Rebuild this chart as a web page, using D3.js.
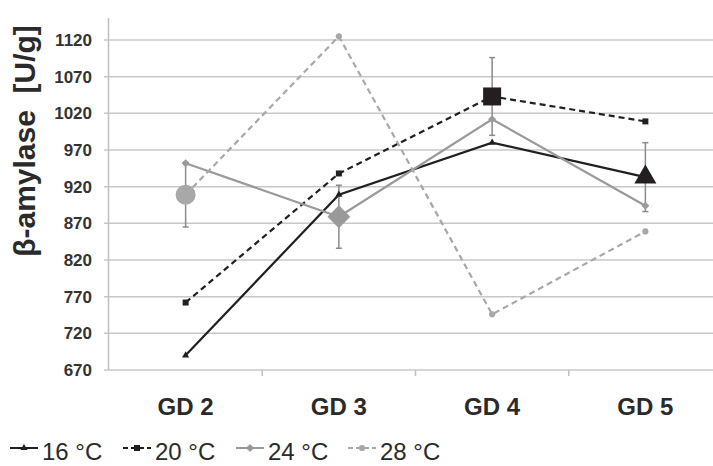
<!DOCTYPE html>
<html><head><meta charset="utf-8">
<script src="https://cdn.jsdelivr.net/npm/d3@7"></script>
<style>body{margin:0;background:#fff}svg{display:block;font-family:"Liberation Sans",Arial,sans-serif}</style>
</head><body><svg id="c" width="713" height="466"></svg>
<script>
const categories = ["GD 2","GD 3","GD 4","GD 5"];
const seriesNames = ["16 °C","20 °C","24 °C","28 °C"];
const t16 = [690, 909, 980, 933];
const t20 = [762, 938, 1043, 1009];
const t24 = [952, 879, 1012, 894];
const t28 = [909, 1125, 746, 859];
const errIndex = [3, 2, 1, 0];
const errValues = [47, 53, 43, 44];
const yTicks = [670,720,770,820,870,920,970,1020,1070,1120];
const yDomain = [670, 1150];

const styles = [
  {color:"#231f20", dash:null, shape:"triangle"},
  {color:"#231f20", dash:"6,4", shape:"square"},
  {color:"#9a9a9a", dash:null, shape:"diamond"},
  {color:"#a8a8a8", dash:"6,4", shape:"circle"}
];
const seriesData = [t16, t20, t24, t28];

const svg = d3.select("#c");
const x = d3.scaleBand().domain(categories).range([109, 722]);
const y = d3.scaleLinear().domain(yDomain).range([370, 18]);

// gridlines
svg.append("g").selectAll("line").data(yTicks).join("line")
  .attr("x1", 104).attr("x2", 713)
  .attr("y1", d => y(d)).attr("y2", d => y(d))
  .attr("stroke", "#c8c8c8").attr("stroke-width", 1.5);

// y axis line
svg.append("line").attr("x1",108.5).attr("x2",108.5).attr("y1",y(yDomain[1])).attr("y2",370)
  .attr("stroke","#c0c0c0").attr("stroke-width",1.5);
// x category ticks
const bounds = categories.slice(1).map(c => x(c));
svg.append("g").selectAll("line").data(bounds).join("line")
  .attr("x1", d => d).attr("x2", d => d).attr("y1", 370).attr("y2", 376)
  .attr("stroke","#c0c0c0").attr("stroke-width",1.5);

// y tick labels
svg.append("g").selectAll("text").data(yTicks).join("text")
  .attr("x", 92).attr("y", d => y(d)).attr("dy","0.36em")
  .attr("text-anchor","end").attr("font-weight","bold").attr("font-size",17)
  .attr("fill","#333").text(d => d);

// x labels
svg.append("g").selectAll("text").data(categories).join("text")
  .attr("x", d => x(d) + x.bandwidth()/2).attr("y", 415)
  .attr("text-anchor","middle").attr("font-weight","bold").attr("font-size",24)
  .attr("fill","#2a2a2a").text(d => d);

// y title
svg.append("text").attr("transform","translate(35,141) rotate(-90)")
  .attr("text-anchor","middle").attr("font-weight","bold").attr("font-size",30)
  .attr("fill","#2a2a2a").style("white-space","pre").text("β-amylase  [U/g]");

function symPath(shape, big){
  if(shape==="triangle") return d3.symbol(d3.symbolTriangle, big?210:22)();
  if(shape==="square") return d3.symbol(d3.symbolSquare, big?324:36)();
  if(shape==="diamond") return d3.symbol(d3.symbolSquare, big?260:32)();
  return d3.symbol(d3.symbolCircle, big?314:30)();
}
function symTransform(shape, px, py){
  return `translate(${px},${py})` + (shape==="diamond" ? " rotate(45)" : "");
}

const line = d3.line().x((d,i) => x(categories[i]) + x.bandwidth()/2).y(d => y(d));

seriesData.forEach((vals, s) => {
  const st = styles[s];
  svg.append("path").attr("d", line(vals)).attr("fill","none")
    .attr("stroke", st.color).attr("stroke-width", 2.2)
    .attr("stroke-dasharray", st.dash);
});
// error bars
seriesData.forEach((vals, s) => {
  const i = errIndex[s], e = errValues[s];
  const cx = x(categories[i]) + x.bandwidth()/2;
  const g = svg.append("g").attr("stroke","#8a8a8a").attr("stroke-width",1.5);
  g.append("line").attr("x1",cx).attr("x2",cx).attr("y1",y(vals[i]+e)).attr("y2",y(vals[i]-e));
  g.append("line").attr("x1",cx-3).attr("x2",cx+3).attr("y1",y(vals[i]+e)).attr("y2",y(vals[i]+e));
  g.append("line").attr("x1",cx-3).attr("x2",cx+3).attr("y1",y(vals[i]-e)).attr("y2",y(vals[i]-e));
});
// markers
seriesData.forEach((vals, s) => {
  const st = styles[s];
  svg.append("g").selectAll("path").data(vals).join("path")
    .attr("d", (d,i) => symPath(st.shape, i===errIndex[s]))
    .attr("transform", (d,i) => symTransform(st.shape, x(categories[i]) + x.bandwidth()/2, y(d)))
    .attr("fill", st.color);
});

// legend
const legX = [10, 123, 236, 348];
seriesNames.forEach((name, s) => {
  const st = styles[s];
  const g = svg.append("g").attr("transform", `translate(${legX[s]},448)`);
  g.append("line").attr("x1",0).attr("x2",28).attr("y1",0).attr("y2",0)
    .attr("stroke", st.color).attr("stroke-width",2).attr("stroke-dasharray", st.dash ? "5,3" : null);
  g.append("path").attr("d", symPath(st.shape,false)).attr("transform", symTransform(st.shape,14,0)).attr("fill", st.color);
  g.append("text").attr("x",32).attr("y",12).attr("font-size",24).attr("fill","#2a2a2a").text(name);
});
</script></body></html>
